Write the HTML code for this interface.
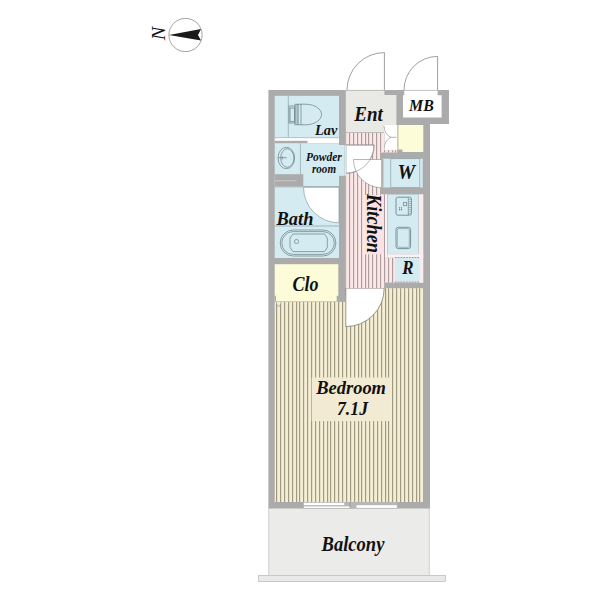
<!DOCTYPE html>
<html><head><meta charset="utf-8">
<style>
html,body{margin:0;padding:0;background:#fff;}
body{width:600px;height:600px;overflow:hidden;font-family:"Liberation Serif",serif;}
svg{display:block;}
text{font-family:"Liberation Serif",serif;font-weight:bold;font-style:italic;fill:#111;}
</style></head><body>
<svg width="600" height="600" viewBox="0 0 600 600">
<defs>
<clipPath id="bedclip"><path d="M274.7,301.7 H345.8 V288.2 H423 V502 H274.7 Z"/></clipPath>
<clipPath id="kitclip"><path d="M345.8,133 H384.2 V150.3 H397 V152.6 H380 V194.2 H385 V257.5 H395 V282.5 H384.2 V288.2 H345.8 Z"/></clipPath>
</defs>
<rect width="600" height="600" fill="#fff"/>

<!-- compass -->
<g id="compass">
<circle cx="185.5" cy="35" r="16.6" fill="#fff" stroke="#666" stroke-width="0.6"/>
<path d="M169,35 L201,29 L198,35 L201,40.5 Z" fill="#1a1a1a"/>
<text transform="translate(165.3,40.3) rotate(-90)" font-size="19.5" style="font-weight:normal" textLength="13.5" lengthAdjust="spacingAndGlyphs">N</text>
</g>

<!-- balcony -->
<rect x="268.4" y="508" width="161.2" height="67.4" fill="#ebebe9"/>
<path d="M268.7,508V575 M429.3,508V575" stroke="#bcbcbc" stroke-width="0.6" fill="none"/>
<rect x="258.4" y="575.4" width="187.2" height="6.2" fill="#e9e9e7" stroke="#b8b8b8" stroke-width="0.7"/>

<!-- walls mass -->
<path d="M268.4,90 H449 V124 H430 V508.6 H268.4 Z" fill="#ababab"/>

<!-- bedroom floor -->
<g clip-path="url(#bedclip)" shape-rendering="crispEdges">
<rect x="274" y="288" width="150" height="215" fill="#f4eed5"/>
<path d="M273.5,288V503 M277.5,288V503 M281.5,288V503 M285.5,288V503 M289.5,288V503 M293.5,288V503 M297.5,288V503 M300.5,288V503 M304.5,288V503 M308.5,288V503 M312.5,288V503 M316.5,288V503 M320.5,288V503 M324.5,288V503 M328.5,288V503 M331.5,288V503 M335.5,288V503 M339.5,288V503 M343.5,288V503 M347.5,288V503 M351.5,288V503 M355.5,288V503 M359.5,288V503 M362.5,288V503 M366.5,288V503 M370.5,288V503 M374.5,288V503 M378.5,288V503 M382.5,288V503 M386.5,288V503 M389.5,288V503 M393.5,288V503 M397.5,288V503 M401.5,288V503 M405.5,288V503 M409.5,288V503 M413.5,288V503 M417.5,288V503 M420.5,288V503 M424.5,288V503" stroke="#e6dfc6" stroke-width="1"/>
<path d="M272.5,288V503 M276.5,288V503 M280.5,288V503 M284.5,288V503 M288.5,288V503 M292.5,288V503 M296.5,288V503 M299.5,288V503 M303.5,288V503 M307.5,288V503 M311.5,288V503 M315.5,288V503 M319.5,288V503 M323.5,288V503 M327.5,288V503 M330.5,288V503 M334.5,288V503 M338.5,288V503 M342.5,288V503 M346.5,288V503 M350.5,288V503 M354.5,288V503 M358.5,288V503 M361.5,288V503 M365.5,288V503 M369.5,288V503 M373.5,288V503 M377.5,288V503 M381.5,288V503 M385.5,288V503 M388.5,288V503 M392.5,288V503 M396.5,288V503 M400.5,288V503 M404.5,288V503 M408.5,288V503 M412.5,288V503 M416.5,288V503 M419.5,288V503 M423.5,288V503" stroke="#a19a83" stroke-width="1"/>
</g>
<!-- bedroom door -->
<path d="M345.8,288.2 H384.2 A38.4,38.4 0 0 1 345.8,326.6 Z" fill="#fff" stroke="#7c7c7c" stroke-width="0.8"/>
<!-- triangle marker -->
<path d="M276,302.6 L278.7,307 L281.4,302.6" fill="#f4f0e4" stroke="#999" stroke-width="0.6"/>
<!-- bedroom label -->
<rect x="311.7" y="377.5" width="78.7" height="43.6" fill="#f3ead4"/>
<text x="316.2" y="393.9" font-size="19" textLength="69.8" lengthAdjust="spacingAndGlyphs">Bedroom</text>
<text x="337" y="415.3" font-size="18.5" textLength="31" lengthAdjust="spacingAndGlyphs">7.1J</text>

<!-- window -->
<rect x="303.3" y="502" width="94.4" height="6.5" fill="#b7b7b7"/>
<rect x="303.9" y="502.8" width="40.3" height="2.3" fill="#fff"/>
<rect x="303.9" y="506.4" width="46" height="1.5" fill="#fff"/>
<rect x="356.5" y="505.2" width="40.4" height="2.7" fill="#fff"/>
<path d="M350,502.5V508.3" stroke="#8a8a8a" stroke-width="0.6"/>

<!-- Lav -->
<rect x="274.7" y="95.8" width="64.3" height="41.7" fill="#d4ebf1"/>
<path d="M288.3,95.8V137.5" stroke="#8fa3aa" stroke-width="0.7"/>
<!-- toilet -->
<g fill="none" stroke="#6f868d" stroke-width="0.75">
<rect x="289" y="106" width="6" height="17"/>
<rect x="290" y="108" width="4.5" height="13.5"/>
<rect x="295" y="104.2" width="6" height="20.6"/>
<path d="M297,104.2V124.8 M298.2,104.2V124.8"/>
<path d="M301,104.2 H306 C316,104.6 321.5,109.5 321.5,114.5 C321.5,119.5 316,124.4 306,124.8 H301"/>
</g>
<text x="315" y="135" font-size="15.3" textLength="22.3" lengthAdjust="spacingAndGlyphs">Lav</text>
<!-- lav sliding door -->
<rect x="274.7" y="137.5" width="64.3" height="5.8" fill="#fff"/>
<path d="M274.7,137.7H339" stroke="#9aa" stroke-width="0.6"/>
<rect x="274.7" y="140.8" width="32.8" height="2.5" fill="#ababab"/>

<!-- Powder room -->
<rect x="274.7" y="143.3" width="64.3" height="43.5" fill="#d4ebf1"/>
<rect x="338.5" y="145" width="6" height="30.8" fill="#d4ebf1"/>
<path d="M300.4,143.3V174.2" stroke="#8fa3aa" stroke-width="0.7"/>
<path d="M344.9,145V175.8" stroke="#9aa" stroke-width="0.6"/>
<g fill="none" stroke="#6f868d" stroke-width="0.75">
<ellipse cx="286.3" cy="158" rx="8.3" ry="10.7"/>
<ellipse cx="287.3" cy="158" rx="6.6" ry="9.3"/>
<path d="M278,157.7H286.7 M282.3,156.2V159.4"/>
</g>
<text x="306" y="160.5" font-size="12" textLength="35.7" lengthAdjust="spacingAndGlyphs">Powder</text>
<text x="312" y="173.3" font-size="12" textLength="24" lengthAdjust="spacingAndGlyphs">room</text>
<!-- pocket wall -->
<rect x="274.7" y="174.2" width="28.6" height="12.5" fill="#ababab"/>
<path d="M274.7,180.8H296.7" stroke="#d0d0d0" stroke-width="0.8"/>
<path d="M303.3,186.7H339" stroke="#8a9ea6" stroke-width="0.7"/>

<!-- Bath -->
<rect x="274.7" y="187.3" width="64.3" height="70.7" fill="#d4ebf1"/>
<path d="M339,187.3 H303.5 A35.5,35.5 0 0 0 339,222.8 Z" fill="#fff" stroke="#8a9ea6" stroke-width="0.7"/>
<path d="M274.7,226H339" stroke="#8a9ea6" stroke-width="0.7"/>
<g fill="none" stroke="#6f868d" stroke-width="0.75">
<rect x="280.2" y="230" width="55.7" height="26" rx="13" ry="13"/>
<rect x="281.8" y="231.6" width="52.5" height="22.8" rx="11.4" ry="11.4"/>
<path d="M293,234 H324.5 L327.3,238 V247.5 L324.5,251.6 H293 L290,247.5 V238 Z"/>
<circle cx="296.5" cy="241.5" r="2.1"/>
</g>
<text x="276.6" y="224.8" font-size="19" textLength="36.8" lengthAdjust="spacingAndGlyphs">Bath</text>

<!-- Clo -->
<rect x="274.7" y="264.2" width="63.6" height="37.5" fill="#fdfcd8"/>
<path d="M276,301.5H336.7" stroke="#c4c3a8" stroke-width="0.7"/>
<rect x="274.7" y="295.8" width="1.3" height="5.9" fill="#ababab"/>
<rect x="336.7" y="295.8" width="9.1" height="5.9" fill="#ababab"/>
<text x="292.5" y="290.7" font-size="20" textLength="26" lengthAdjust="spacingAndGlyphs">Clo</text>

<!-- Ent -->
<path d="M345.8,90 H384.4 V95 H396.4 V132.5 H345.8 Z" fill="#e9e9e6"/>
<path d="M345.8,132.8H384.2" stroke="#aaa" stroke-width="0.6"/>
<text x="354.3" y="120.8" font-size="20.3" textLength="28.5" lengthAdjust="spacingAndGlyphs">Ent</text>
<!-- ent door -->
<path d="M384.4,90 V52.6 A37.4,37.4 0 0 0 347,90" fill="none" stroke="#777" stroke-width="0.7"/>
<!-- MB -->
<path d="M404.2,90 H437.6 V95.3 H441.6 V117.5 H403 V95.3 H404.2 Z" fill="#fff"/>
<path d="M404.2,90.4H437.6 M346,90.4H384.4" stroke="#b0b0b0" stroke-width="0.8"/>
<text x="409" y="111.3" font-size="17" textLength="24.8" lengthAdjust="spacingAndGlyphs">MB</text>
<path d="M437.6,90 V56.4 A33.6,33.6 0 0 0 404,90" fill="none" stroke="#777" stroke-width="0.7"/>

<!-- shoe box -->
<rect x="397.5" y="125" width="25.8" height="27" fill="#fdfcd8"/>
<rect x="397.2" y="125" width="1.2" height="27" fill="#b9b79a"/>
<rect x="397.5" y="149.5" width="5" height="3" fill="#ababab"/>
<rect x="384.2" y="125" width="13" height="25.3" fill="#fff"/>
<g fill="none" stroke="#888" stroke-width="0.6">
<path d="M384,126 Q384.6,134.2 390,136.8 L391,137.3 H396.5"/>
<path d="M384,149 Q384.6,140.6 390,137.8 L391,137.3"/>
</g>

<!-- kitchen floor -->
<g clip-path="url(#kitclip)" shape-rendering="crispEdges">
<rect x="345" y="132" width="53" height="157" fill="#fde8e8"/>
<path d="M346.5,132V289 M350.5,132V289 M354.5,132V289 M358.5,132V289 M362.5,132V289 M366.5,132V289 M369.5,132V289 M373.5,132V289 M377.5,132V289 M381.5,132V289 M385.5,132V289 M389.5,132V289 M393.5,132V289 M396.5,132V289" stroke="#efdcdd" stroke-width="1"/>
<path d="M345.5,132V289 M349.5,132V289 M353.5,132V289 M357.5,132V289 M361.5,132V289 M365.5,132V289 M368.5,132V289 M372.5,132V289 M376.5,132V289 M380.5,132V289 M384.5,132V289 M388.5,132V289 M392.5,132V289 M395.5,132V289" stroke="#ab9ca0" stroke-width="1"/>
</g>
<rect x="385" y="194.2" width="2.5" height="63.3" fill="#fbf3f3"/>
<rect x="418.3" y="194.2" width="5" height="88.3" fill="#f9eeee"/>
<!-- powder door arcs -->
<path d="M345.8,145 H374.1 A28.3,28.3 0 0 1 345.8,173.3 Z" fill="#fff" stroke="#8a8a8a" stroke-width="0.6"/>
<path d="M381.7,159.5 H353.5 A28.2,28.2 0 0 0 381.7,187.7 Z" fill="#fff" stroke="#8a8a8a" stroke-width="0.6"/>
<path d="M345.8,145 H374.1 A28.3,28.3 0 0 1 345.8,173.3 Z" fill="none" stroke="#8a8a8a" stroke-width="0.6"/>
<rect x="344.4" y="145.2" width="1.9" height="30.4" fill="#d4ebf1"/>
<!-- kitchen label -->
<rect x="365" y="195" width="19" height="59.3" fill="#fbe3e3"/>
<text transform="translate(367.3,194) rotate(90)" font-size="20" textLength="59" lengthAdjust="spacingAndGlyphs">Kitchen</text>

<!-- W -->
<rect x="381.7" y="158.7" width="41" height="28.8" fill="#d4ebf1"/>
<rect x="381.5" y="158.7" width="1.9" height="28.8" fill="#adadad"/>
<rect x="390.8" y="158.7" width="29" height="28.8" fill="none" stroke="#8fa3aa" stroke-width="0.7"/>
<text x="397.6" y="179.3" font-size="20" textLength="17.6" lengthAdjust="spacingAndGlyphs">W</text>

<!-- counter -->
<rect x="387.5" y="194.2" width="30.8" height="60" fill="#d4ebf1" stroke="#a9bcc3" stroke-width="0.5"/>
<g fill="none" stroke="#728890" stroke-width="0.9">
<rect x="396" y="197.2" width="15.4" height="18" rx="1.8"/>
<path d="M408.3,197.5V215" stroke-width="0.7"/>
<path d="M408.3,199.5H411.4 M408.3,201.5H411.4 M408.3,203.5H411.4 M408.3,205.5H411.4 M408.3,207.5H411.4 M408.3,209.5H411.4 M408.3,211.5H411.4 M408.3,213.5H411.4" stroke-width="0.5"/>
<rect x="403.4" y="202.4" width="3.3" height="3.3" stroke-width="0.7"/>
<rect x="396" y="227.3" width="14.6" height="21.3" rx="2.2"/>
<rect x="397.3" y="228.6" width="12" height="18.7" rx="1.6" stroke-width="0.6"/>
</g>
<g fill="#55686f"><circle cx="399.6" cy="207.8" r="0.6"/><circle cx="401.5" cy="207.8" r="0.6"/><circle cx="399.6" cy="209.7" r="0.6"/><circle cx="401.5" cy="209.7" r="0.6"/></g>
<!-- R -->
<rect x="387.5" y="254.2" width="35.8" height="3.4" fill="#fbf1f1"/>
<rect x="395" y="281.5" width="28.3" height="1" fill="#fbf1f1"/>
<rect x="395" y="257.5" width="24.7" height="24.5" fill="#d4ebf1"/>
<path d="M395,257.5H419.7 M395,282H419.7" stroke="#889" stroke-width="0.8" stroke-dasharray="1.6,1.2"/>
<text x="402.3" y="274.4" font-size="18" textLength="11.3" lengthAdjust="spacingAndGlyphs">R</text>

<text x="321.6" y="551.3" font-size="20.3" textLength="62.8" lengthAdjust="spacingAndGlyphs">Balcony</text>
</svg>
</body></html>
